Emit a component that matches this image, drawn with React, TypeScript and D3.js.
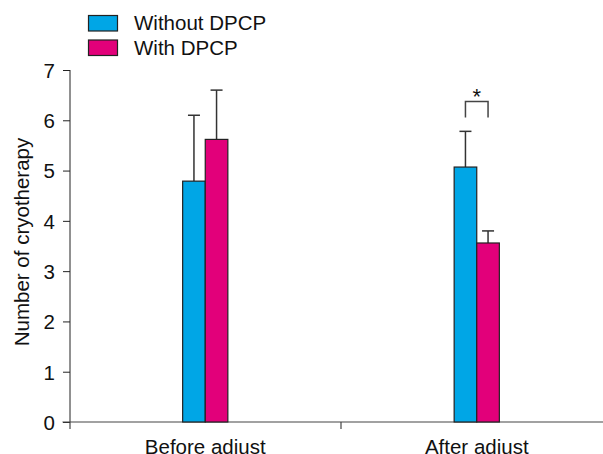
import { useEffect, useRef } from "react";
import * as d3 from "d3";

const categories = ["Before adjust", "After adjust"];
const seriesNames = ["Without DPCP", "With DPCP"];
const withoutValues = [4.79, 5.07];
const withoutErrors = [1.31, 0.71];
const withValues = [5.62, 3.56];
const withErrors = [0.98, 0.24];
const yTicks = [0, 1, 2, 3, 4, 5, 6, 7];
const colors = ["#00a6e6", "#e2007a"];

const width = 603;
const height = 454;

function drawChart(node: SVGSVGElement) {
  const svg = d3.select(node);
  svg.selectAll("*").remove();

  const font = "'Liberation Sans', Arial, sans-serif";
  const fontSize = 20.5;
  const y = d3.scaleLinear().domain([0, 7]).range([422, 70]);
  const x = d3.scaleBand().domain(categories).range([69.5, 612.5]);
  const barW = 22.6;

  // y axis
  const yAxis = svg.append("g").attr("transform", "translate(70,0)");
  yAxis
    .call(
      d3
        .axisLeft(y)
        .tickValues(yTicks)
        .tickFormat(d3.format("d"))
        .tickSize(7)
        .tickSizeOuter(0)
        .tickPadding(8)
    )
    .call((g) => g.select(".domain").attr("d", `M0,${y(7)}V429`));
  yAxis.selectAll("line").attr("stroke", "#222");
  yAxis.select(".domain").attr("stroke", "#222");
  yAxis
    .selectAll("text")
    .attr("font-family", font)
    .attr("font-size", fontSize)
    .attr("fill", "#111")
    .attr("dy", "0.36em");

  // x axis line with middle tick
  const xAxis = svg.append("g").attr("stroke", "#444").attr("stroke-width", 1.2);
  xAxis.append("line").attr("x1", 62.5).attr("x2", 603).attr("y1", y(0)).attr("y2", y(0));
  const mid = (x(categories[0])! + x.bandwidth() + x(categories[1])!) / 2;
  xAxis.append("line").attr("x1", mid).attr("x2", mid).attr("y1", y(0)).attr("y2", y(0) + 7);

  svg
    .append("g")
    .selectAll("text")
    .data(categories)
    .join("text")
    .attr("x", (d) => x(d)! + x.bandwidth() / 2)
    .attr("y", 453.5)
    .attr("text-anchor", "middle")
    .attr("font-family", font)
    .attr("font-size", fontSize)
    .attr("fill", "#111")
    .text((d) => d);

  // bars
  const series = [
    { values: withoutValues, errors: withoutErrors, color: colors[0], offset: -barW },
    { values: withValues, errors: withErrors, color: colors[1], offset: 0 },
  ];
  series.forEach((s) => {
    const g = svg.append("g");
    categories.forEach((c, i) => {
      const cx = x(c)! + x.bandwidth() / 2 + s.offset;
      const top = y(s.values[i] + s.errors[i]);
      g.append("line")
        .attr("x1", cx + barW / 2)
        .attr("x2", cx + barW / 2)
        .attr("y1", y(s.values[i]))
        .attr("y2", top)
        .attr("stroke", "#333")
        .attr("stroke-width", 1.5);
      g.append("line")
        .attr("x1", cx + barW / 2 - 6)
        .attr("x2", cx + barW / 2 + 6)
        .attr("y1", top)
        .attr("y2", top)
        .attr("stroke", "#333")
        .attr("stroke-width", 1.5);
      g.append("rect")
        .attr("x", cx)
        .attr("y", y(s.values[i]))
        .attr("width", barW)
        .attr("height", y(0) - y(s.values[i]))
        .attr("fill", s.color)
        .attr("stroke", "#222")
        .attr("stroke-width", 1.2);
    });
  });

  // significance bracket
  const ac = x(categories[1])! + x.bandwidth() / 2;
  const bx1 = ac - barW / 2;
  const bx2 = ac + barW / 2;
  svg
    .append("path")
    .attr("d", `M${bx1},117.5V101.5H${bx2}V117.5`)
    .attr("fill", "none")
    .attr("stroke", "#444")
    .attr("stroke-width", 1.5);
  svg
    .append("text")
    .attr("x", ac)
    .attr("y", 104)
    .attr("text-anchor", "middle")
    .attr("font-family", font)
    .attr("font-size", 22)
    .attr("fill", "#111")
    .text("*");

  // legend
  const legend = svg.append("g");
  seriesNames.forEach((name, i) => {
    const ly = 15 + i * 24.5;
    legend
      .append("rect")
      .attr("x", 88.5)
      .attr("y", ly + 0.5)
      .attr("width", 29)
      .attr("height", 15.5)
      .attr("fill", colors[i])
      .attr("stroke", "#222")
      .attr("stroke-width", 1.2);
    legend
      .append("text")
      .attr("x", 134)
      .attr("y", ly + 15)
      .attr("font-family", font)
      .attr("font-size", fontSize)
      .attr("fill", "#111")
      .text(name);
  });

  // y title
  svg
    .append("text")
    .attr("transform", `translate(29,242) rotate(-90)`)
    .attr("text-anchor", "middle")
    .attr("font-family", font)
    .attr("font-size", fontSize)
    .attr("fill", "#111")
    .text("Number of cryotherapy");
}

export default function App() {
  const ref = useRef<SVGSVGElement>(null);
  useEffect(() => {
    if (ref.current) drawChart(ref.current);
  }, []);
  return (
    <svg
      ref={ref}
      width={width}
      height={height}
      style={{ position: "absolute", left: 0, top: 0, background: "#fff" }}
    />
  );
}
